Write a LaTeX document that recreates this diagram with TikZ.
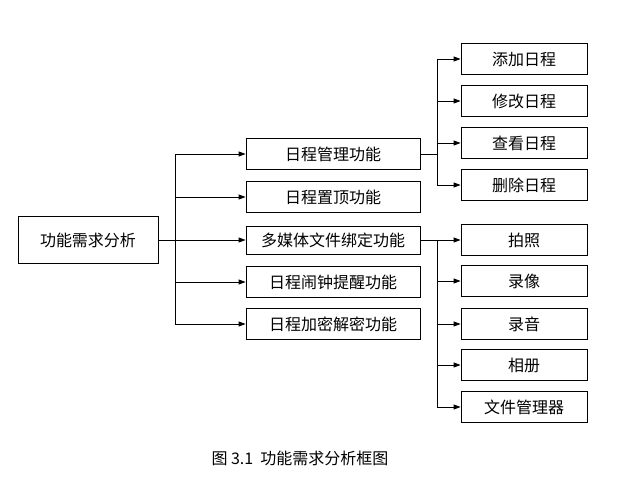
\documentclass[tikz,border=0pt]{standalone}
\usepackage{fontspec}
\setmainfont{Noto Sans CJK SC}
\usetikzlibrary{arrows.meta}
\begin{document}
\begin{tikzpicture}[x=1pt,y=-1pt,
  bx/.style={draw,line width=0.8pt,minimum height=31pt,inner sep=0pt,font=\fontsize{16}{18}\selectfont},
  mid/.style={bx,minimum width=174pt},
  rt/.style={bx,minimum width=126pt},
  ln/.style={line width=0.8pt},
  ar/.style={ln,-{Triangle[length=7pt,width=5pt]}}]
\useasboundingbox (0,0) rectangle (630,477);
\node[bx,minimum width=140pt,minimum height=47pt] (root) at (88,240) {功能需求分析};
\node[mid] (m1) at (333,154) {日程管理功能};
\node[mid] (m2) at (333,197) {日程置顶功能};
\node[mid,minimum height=28pt] (m3) at (333,240) {多媒体文件绑定功能};
\node[mid] (m4) at (333,282) {日程闹钟提醒功能};
\node[mid] (m5) at (333,324) {日程加密解密功能};
\node[rt] (a1) at (524,59) {添加日程};
\node[rt] (a2) at (524,101) {修改日程};
\node[rt] (a3) at (524,143) {查看日程};
\node[rt] (a4) at (524,185) {删除日程};
\node[rt] (b1) at (524,240) {拍照};
\node[rt] (b2) at (524,281) {录像};
\node[rt] (b3) at (524,324) {录音};
\node[rt] (b4) at (524,365) {相册};
\node[rt] (b5) at (524,407) {文件管理器};
\node[font=\fontsize{16}{18}\selectfont] (cap) at (300,458) {图 3.1\ \ 功能需求分析框图};
\coordinate (j0) at (175,240);
\coordinate (j1) at (437,154);
\coordinate (j2) at (437,240);
\draw[ln] (root.east) -- (j0);
\draw[ln] (j0 |- m1) -- (j0 |- m5);
\foreach \m in {m1,m2,m3,m4,m5} \draw[ar] (j0 |- \m) -- (\m.west);
\draw[ln] (m1.east) -- (j1);
\draw[ln] (j1 |- a1) -- (j1 |- a4);
\foreach \m in {a1,a2,a3,a4} \draw[ar] (j1 |- \m) -- (\m.west);
\draw[ln] (m3.east) -- (j2);
\draw[ln] (j2 |- b1) -- (j2 |- b5);
\foreach \m in {b1,b2,b3,b4,b5} \draw[ar] (j2 |- \m) -- (\m.west);
\end{tikzpicture}
\end{document}
